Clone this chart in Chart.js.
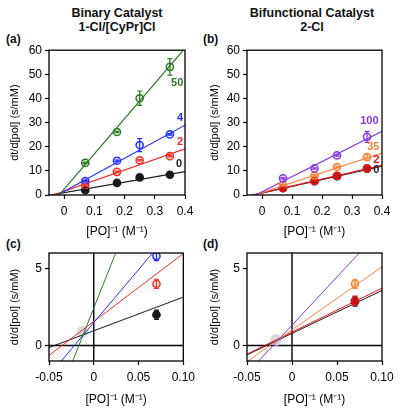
<!DOCTYPE html>
<html>
<head>
<meta charset="utf-8">
<script src="https://cdn.jsdelivr.net/npm/chart.js@4.4.1/dist/chart.umd.min.js"></script>
<style>
  body { margin: 0; background: #fff; font-family: "Liberation Sans", Arial, sans-serif; }
  #wrap { position: relative; width: 400px; height: 412px; }
  .box { position: absolute; }
  .ttl { position: absolute; width: 200px; text-align: center; font-weight: bold; font-size: 12.5px; line-height: 14px; color: #111; }
  .lab { position: absolute; font-weight: bold; font-size: 12px; color: #111; }
</style>
</head>
<body>
<div id="wrap">
  <div class="ttl" style="left:17px; top:6px;">Binary Catalyst<br>1-Cl/[CyPr]Cl</div>
  <div class="ttl" style="left:212px; top:6px;">Bifunctional Catalyst<br>2-Cl</div>
  <div class="lab" style="left:6px; top:32px;">(a)</div>
  <div class="lab" style="left:203px; top:32px;">(b)</div>
  <div class="lab" style="left:6px; top:237px;">(c)</div>
  <div class="lab" style="left:203px; top:237px;">(d)</div>
  <div class="box" style="left:0; top:40px; width:200px; height:200px;"><canvas id="chA"></canvas></div>
  <div class="box" style="left:200px; top:40px; width:200px; height:200px;"><canvas id="chB"></canvas></div>
  <div class="box" style="left:0; top:240px; width:200px; height:172px;"><canvas id="chC"></canvas></div>
  <div class="box" style="left:200px; top:240px; width:200px; height:172px;"><canvas id="chD"></canvas></div>
</div>
<script>
// 1/[PO] values (M^-1)
const xInv = [0.07, 0.175, 0.25, 0.35];

// panel a/c: binary catalyst, series = equiv. of [CyPr]Cl
const namesA = ['0', '2', '4', '50'];
const colorsA = ['#1a1a1a', '#f0302a', '#2233ff', '#2a7a22'];
const a0 = [2.0, 5.0, 7.3, 8.4];
const a2 = [4.0, 9.6, 14.4, 16.1];
const a4 = [5.8, 14.2, 20.7, 25.1];
const a50 = [13.3, 26.1, 40.1, 53.1];
const errA0 = [0.3, 0.3, 0.3, 0.3];
const errA2 = [0.3, 0.3, 0.3, 0.3];
const errA4 = [0.3, 0.3, 2.7, 0.3];
const errA50 = [0.3, 0.3, 3.0, 3.4];
const slopeA = [21.8, 44.0, 68.6, 146];
const interceptA = [0.96, 1.56, 1.49, 2.43];
const crossC = [{ x: -0.0125, y: 0.9 }];

// panel b/d: bifunctional catalyst 2-Cl
const namesB = ['0', '2', '35', '100'];
const colorsB = ['#1a1a1a', '#e8141c', '#f7883c', '#8a38e6'];
const b0 = [2.85, 5.7, 7.8, 10.9];
const b2 = [2.9, 5.8, 7.9, 11.0];
const b35 = [4.0, 8.0, 11.6, 15.7];
const b100 = [6.9, 11.0, 16.4, 24.1];
const errB0 = [0.3, 0.3, 0.3, 0.3];
const errB2 = [0.3, 0.3, 0.3, 0.3];
const errB35 = [0.3, 0.3, 0.3, 1.3];
const errB100 = [0.3, 0.3, 0.3, 2.3];
const slopeB = [27.8, 28.5, 40.9, 62.6];
const interceptB = [0.79, 0.87, 1.01, 1.32];
const crossD = [{ x: -0.0175, y: 0.36 }];

// where the series names sit (data units) in panels a and b
const tagPosA = [[0.38, 12.7], [0.384, 22.1], [0.384, 31.8], [0.374, 46.5]];
const tagPosB = [[0.381, 10.3], [0.381, 14.5], [0.371, 20.0], [0.358, 30.6]];

const FONT = '"Liberation Sans", Arial, sans-serif';

function hexA(hex, a) {
  const n = parseInt(hex.slice(1), 16);
  return 'rgba(' + (n >> 16) + ',' + ((n >> 8) & 255) + ',' + (n & 255) + ',' + a + ')';
}

// box around plot + zero lines
const framePlugin = {
  id: 'frame',
  beforeDatasetsDraw(chart, args, o) {
    if (!o.zero) return;
    const { ctx, chartArea: c, scales } = chart;
    ctx.save();
    ctx.strokeStyle = '#000';
    ctx.lineWidth = 1.4;
    const x0 = scales.x.getPixelForValue(0), y0 = scales.y.getPixelForValue(0);
    ctx.beginPath();
    ctx.moveTo(x0, c.top); ctx.lineTo(x0, c.bottom);
    ctx.moveTo(c.left, y0); ctx.lineTo(c.right, y0);
    ctx.stroke();
    ctx.restore();
  },
  afterDraw(chart) {
    const { ctx, chartArea: c } = chart;
    ctx.save();
    ctx.strokeStyle = '#000';
    ctx.lineWidth = 1.3;
    ctx.strokeRect(c.left, c.top, c.right - c.left, c.bottom - c.top);
    ctx.restore();
  }
};

// vertical error bars with small caps
const errorPlugin = {
  id: 'errbars',
  afterDatasetsDraw(chart) {
    const { ctx, chartArea: c, scales } = chart;
    ctx.save();
    ctx.beginPath();
    ctx.rect(c.left, c.top, c.right - c.left, c.bottom - c.top);
    ctx.clip();
    // draw from last dataset to first so the top series stays on top
    chart.data.datasets.slice().reverse().forEach(ds => {
      if (!ds.errs) return;
      ctx.strokeStyle = ds.borderColor;
      ctx.lineWidth = 1.2;
      ds.data.forEach((p, i) => {
        const px = scales.x.getPixelForValue(p.x);
        const hi = scales.y.getPixelForValue(p.y + ds.errs[i]);
        const lo = scales.y.getPixelForValue(p.y - ds.errs[i]);
        ctx.beginPath();
        ctx.moveTo(px, hi); ctx.lineTo(px, lo);
        ctx.moveTo(px - 2.5, hi); ctx.lineTo(px + 2.5, hi);
        ctx.moveTo(px - 2.5, lo); ctx.lineTo(px + 2.5, lo);
        ctx.stroke();
      });
    });
    ctx.restore();
  }
};

// series name tags
const tagPlugin = {
  id: 'tags',
  afterDatasetsDraw(chart, args, o) {
    if (!o.names) return;
    const { ctx, scales } = chart;
    ctx.save();
    ctx.font = 'bold 11px ' + FONT;
    ctx.textAlign = 'center';
    ctx.textBaseline = 'middle';
    o.names.forEach((n, i) => {
      ctx.fillStyle = o.colors[i];
      ctx.fillText(n, scales.x.getPixelForValue(o.pos[i][0]), scales.y.getPixelForValue(o.pos[i][1]));
    });
    ctx.restore();
  }
};

function makePanel(id, p) {
  const points = [], lines = [];
  p.series.forEach((vals, i) => {
    points.push({
      type: 'scatter',
      data: xInv.map((x, k) => ({ x: x, y: vals[k] })),
      errs: p.errs[i],
      borderColor: p.colors[i],
      backgroundColor: hexA(p.colors[i], p.fill[i]),
      pointRadius: 3.6,
      pointBorderWidth: 1.5,
      showLine: false
    });
    lines.push({
      type: 'line',
      data: [p.xMin, p.xMax].map(x => ({ x: x, y: p.slope[i] * x + p.icpt[i] })),
      borderColor: p.colors[i],
      borderWidth: p.lw,
      pointRadius: 0,
      fill: false
    });
  });
  const datasets = points.reverse().concat(lines.reverse());
  if (p.cross) {
    datasets.push({
      type: 'scatter',
      data: p.cross,
      backgroundColor: 'rgba(205,205,205,0.75)',
      borderColor: 'rgba(205,205,205,0.75)',
      pointRadius: 6,
      pointBorderWidth: 0
    });
  }
  const tickFont = { family: FONT, size: 12 };
  return new Chart(document.getElementById(id), {
    type: 'scatter',
    data: { datasets: datasets },
    options: {
      responsive: true,
      maintainAspectRatio: false,
      animation: false,
      events: [],
      layout: { padding: { top: p.padTop, right: p.padRight, left: 0, bottom: 0 } },
      plugins: {
        legend: { display: false },
        tooltip: { enabled: false },
        frame: { zero: p.zero },
        tags: p.tags || {}
      },
      scales: {
        x: {
          type: 'linear',
          min: p.xMin, max: p.xMax,
          afterBuildTicks: s => { s.ticks = p.xTicks.map(v => ({ value: v })); },
          afterFit: s => { s.height = p.xH; },
          border: { display: false },
          grid: { drawOnChartArea: false, drawTicks: true, tickLength: 4, tickColor: '#000', tickWidth: 1.2 },
          ticks: { color: '#000', font: tickFont, padding: 5, maxRotation: 0, autoSkip: false,
                   callback: v => v === 0 ? '0' : v.toFixed(p.xDec) },
          title: { display: true, text: '[PO]⁻¹ (M⁻¹)', color: '#000',
                   font: { family: FONT, size: 12 }, padding: { top: 0, bottom: p.xTitlePad } }
        },
        y: {
          type: 'linear',
          min: p.yMin, max: p.yMax,
          afterBuildTicks: s => { s.ticks = p.yTicks.map(v => ({ value: v })); },
          afterFit: s => { s.width = p.yW; },
          border: { display: false },
          grid: { drawOnChartArea: false, drawTicks: true, tickLength: 4, tickColor: '#000', tickWidth: 1.2 },
          ticks: { color: '#000', font: tickFont, padding: 3, autoSkip: false },
          title: { display: true, text: 'dt/d[pol] (s/mM)', color: '#000',
                   font: { family: FONT, size: 11 }, padding: { top: 8, bottom: 0 } }
        }
      }
    },
    plugins: [framePlugin, errorPlugin, tagPlugin]
  });
}

const topY = [0, 10, 20, 30, 40, 50, 60];
const topX = [0, 0.1, 0.2, 0.3, 0.4];
const lowX = [-0.05, 0, 0.05, 0.1];
const lowY = [0, 5];

makePanel('chA', {
  series: [a0, a2, a4, a50], errs: [errA0, errA2, errA4, errA50],
  colors: colorsA, fill: [1, 0.15, 0.1, 0.1], slope: slopeA, icpt: interceptA,
  xMin: -0.05, xMax: 0.4, yMin: 0, yMax: 60, xTicks: topX, yTicks: topY, xDec: 1,
  yW: 49, xH: 45, padTop: 8, padRight: 15, xTitlePad: 1, lw: 1.2, zero: false,
  tags: { names: namesA, colors: colorsA, pos: tagPosA }
});
makePanel('chB', {
  series: [b0, b2, b35, b100], errs: [errB0, errB2, errB35, errB100],
  colors: colorsB, fill: [1, 0.9, 0.35, 0.1], slope: slopeB, icpt: interceptB,
  xMin: -0.05, xMax: 0.4, yMin: 0, yMax: 60, xTicks: topX, yTicks: topY, xDec: 1,
  yW: 47, xH: 45, padTop: 8, padRight: 18, xTitlePad: 1, lw: 1.2, zero: false,
  tags: { names: namesB, colors: colorsB, pos: tagPosB }
});
makePanel('chC', {
  series: [a0, a2, a4, a50], errs: [errA0, errA2, errA4, errA50],
  colors: colorsA, fill: [1, 0.15, 0.1, 0.1], slope: slopeA, icpt: interceptA,
  xMin: -0.05, xMax: 0.1, yMin: -1, yMax: 6, xTicks: lowX, yTicks: lowY, xDec: 2,
  yW: 49, xH: 51, padTop: 13, padRight: 15, xTitlePad: 5, lw: 1, zero: true, cross: crossC
});
makePanel('chD', {
  series: [b0, b2, b35, b100], errs: [errB0, errB2, errB35, errB100],
  colors: colorsB, fill: [1, 0.9, 0.35, 0.1], slope: slopeB, icpt: interceptB,
  xMin: -0.05, xMax: 0.1, yMin: -1, yMax: 6, xTicks: lowX, yTicks: lowY, xDec: 2,
  yW: 47, xH: 51, padTop: 13, padRight: 18, xTitlePad: 5, lw: 1, zero: true, cross: crossD
});
</script>
</body>
</html>
